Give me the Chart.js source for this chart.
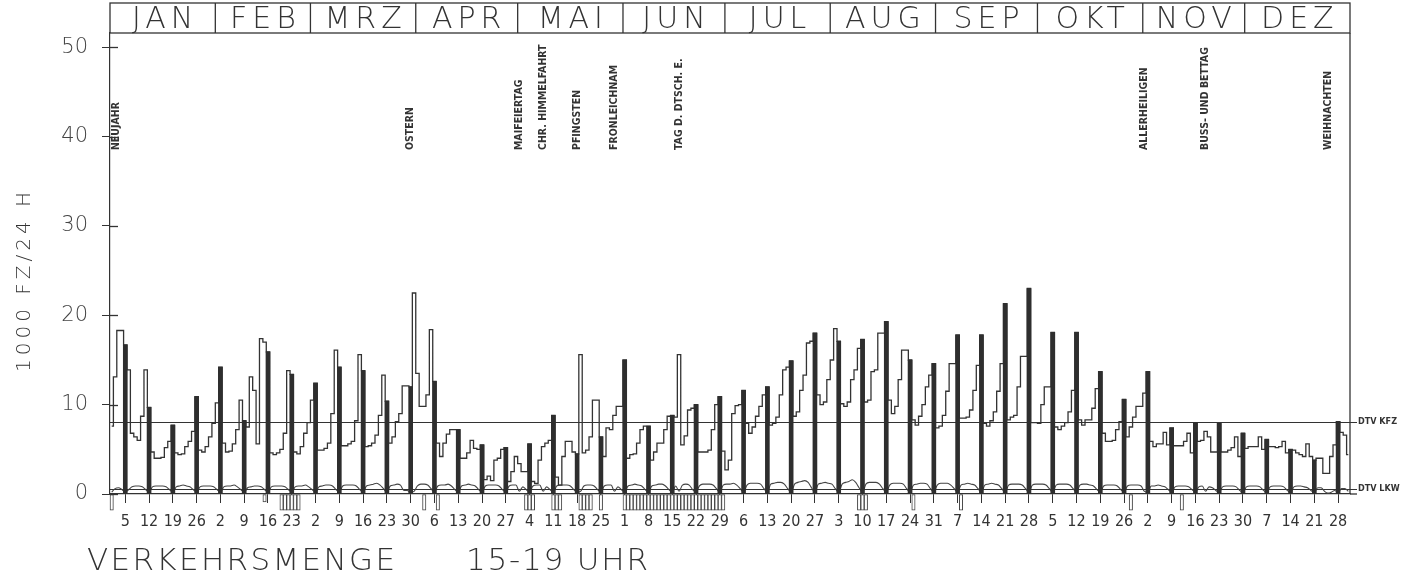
<!DOCTYPE html>
<html>
<head>
<meta charset="utf-8">
<title>Verkehrsmenge 15-19 Uhr</title>
<script src="https://cdn.jsdelivr.net/npm/chart.js@4.4.1/dist/chart.umd.min.js"></script>
<style>
  html, body { margin: 0; padding: 0; background: #fff; }
  canvas { display: block; }
</style>
</head>
<body>
<canvas id="chart" width="1421" height="575"></canvas>
<script>
// Verkehrsmenge 1986, Tageswerte 15-19 Uhr (1000 Fz)
const MONTHS = ['JAN', 'FEB', 'MRZ', 'APR', 'MAI', 'JUN', 'JUL', 'AUG', 'SEP', 'OKT', 'NOV', 'DEZ'];
const MONTH_DAYS = [31, 28, 31, 30, 31, 30, 31, 31, 30, 31, 30, 31];
const FIRST_SUNDAY = 5;
const SUNDAY_LABELS = [5, 12, 19, 26, 2, 9, 16, 23, 2, 9, 16, 23, 30, 6, 13, 20, 27, 4, 11, 18, 25,
  1, 8, 15, 22, 29, 6, 13, 20, 27, 3, 10, 17, 24, 31, 7, 14, 21, 28, 5, 12, 19, 26,
  2, 9, 16, 23, 30, 7, 14, 21, 28];
const Y_TICKS = [0, 10, 20, 30, 40, 50];

// Kfz je Tag
const kfzJan = [7.6, 13.1, 18.3, 18.3, 16.7, 13.9, 6.8, 6.4, 6.0, 8.7, 13.9, 9.7, 4.7, 4.0, 4.0, 4.1, 5.2, 5.9, 7.7,
  4.6, 4.4, 4.5, 5.3, 5.9, 7.0, 10.9, 4.9, 4.7, 5.3, 6.4, 7.9];
const kfzFeb = [10.2, 14.2, 5.7, 4.7, 4.8, 5.6, 7.2, 10.5, 8.2, 7.5, 13.1, 11.6, 5.6, 17.4, 17.0, 15.9,
  4.6, 4.4, 4.6, 5.0, 6.8, 13.8, 13.4, 4.7, 4.5, 5.3, 6.8, 8.0];
const kfzMar = [10.5, 12.4, 4.9, 4.9, 5.1, 5.7, 9.0, 16.1, 14.2, 5.4, 5.4, 5.6, 5.9, 8.2, 15.6, 13.8,
  5.3, 5.4, 5.7, 6.6, 8.8, 13.3, 10.4, 5.7, 6.4, 8.1, 9.0, 12.1, 12.1, 12.0, 22.5];
const kfzApr = [13.5, 9.8, 9.8, 11.1, 18.4, 12.6, 5.7, 4.2, 5.7, 6.7, 7.2, 7.2, 7.2, 4.0, 4.0, 4.6, 6.0, 5.1, 5.0, 5.5,
  1.6, 2.0, 1.5, 3.8, 4.0, 5.0, 5.2, 1.4, 2.5, 4.2];
const kfzMai = [3.4, 2.5, 2.5, 5.6, 1.4, 1.2, 3.8, 5.3, 5.7, 6.0, 8.8, 1.9, 1.0, 4.2, 5.9, 5.9, 4.7, 4.5,
  15.6, 4.6, 4.9, 6.4, 10.5, 10.5, 6.4, 4.2, 7.4, 7.2, 8.8, 9.8, 9.8];
const kfzJun = [15.0, 4.0, 4.4, 4.5, 5.7, 7.2, 7.6, 7.6, 3.8, 4.7, 5.7, 5.7, 7.2, 8.7, 8.8,
  8.6, 15.6, 5.5, 6.5, 9.4, 9.6, 10.0, 4.7, 4.7, 4.7, 4.9, 7.2, 10.0, 10.9, 4.8];
const kfzJul = [2.7, 3.8, 9.0, 9.9, 10.0, 11.6, 7.9, 6.8, 7.5, 8.7, 9.8, 11.1, 12.0, 7.7, 7.9, 8.6, 11.1, 13.9, 14.2, 14.9,
  8.7, 9.2, 11.6, 13.3, 16.9, 17.1, 18.0, 11.1, 10.0, 10.3, 12.8];
const kfzAug = [15.0, 18.5, 17.1, 10.1, 9.8, 10.3, 12.8, 13.9, 16.3, 17.3, 10.3, 10.5, 13.7, 13.9, 18.0, 18.0, 19.3,
  10.5, 9.0, 9.8, 12.8, 16.1, 16.1, 15.0, 8.3, 7.7, 8.7, 10.0, 12.0, 13.3, 14.6];
const kfzSep = [7.4, 7.6, 8.8, 11.5, 14.6, 14.6, 17.8, 8.5, 8.5, 8.6, 9.4, 11.6, 14.4, 17.8,
  7.9, 7.6, 8.2, 9.2, 11.5, 14.6, 21.3, 8.3, 8.6, 8.8, 12.0, 15.4, 15.4, 23.0, 8.0, 8.0];
const kfzOkt = [7.9, 10.0, 12.0, 12.0, 18.1, 7.5, 7.2, 7.6, 8.0, 9.2, 11.6, 18.1, 8.3, 7.7, 8.3, 8.3, 9.6, 11.8, 13.7,
  6.8, 5.9, 5.9, 6.0, 7.2, 8.1, 10.6, 6.4, 7.5, 8.6, 9.8, 9.8];
const kfzNov = [11.3, 13.7, 5.9, 5.3, 5.6, 5.6, 6.9, 5.5, 7.4, 5.4, 5.4, 5.4, 5.9, 6.8, 4.6, 8.0,
  5.9, 6.0, 7.0, 6.4, 4.7, 4.7, 7.9, 4.7, 4.7, 4.9, 5.2, 6.4, 4.2, 6.8];
const kfzDez = [5.1, 5.3, 5.3, 5.3, 6.4, 5.0, 6.1, 5.3, 5.3, 5.2, 5.3, 5.9, 4.6, 5.0, 4.9, 4.6, 4.4, 4.2, 5.6, 4.2, 3.8,
  4.0, 4.0, 2.3, 2.3, 4.2, 5.5, 8.1, 6.9, 6.6, 4.4];

// Lkw je Tag
const lkwJan = [.2, .6, .7, .5, .2, .5, .8, .9, .9, .8, .5, .2, .8, .9, .9, .9, .8, .5, .2, .8, .9, 1.0, .9, .8, .5, .2, .8, .9, .9, .9, .8];
const lkwFeb = [.5, .2, .8, .9, .9, 1.0, .8, .5, .2, .7, .8, .9, .9, .8, .5, .2, .8, .9, .9, .9, .8, .5, .2, .8, .9, .9, 1.0, .8];
const lkwMar = [.5, .2, .8, .9, 1.0, 1.0, .9, .5, .2, .9, 1.0, 1.0, 1.0, .9, .5, .2, .9, 1.0, 1.1, 1.2, 1.0, .6, .2, .9, 1.0, 1.1, 1.0, .4, .4, .2, .3];
const lkwApr = [.9, 1.1, 1.1, 1.0, .6, .2, .9, 1.0, 1.0, 1.1, .9, .5, .2, .9, 1.0, 1.1, 1.0, .9, .5, .2, .9, 1.0, 1.0, 1.0, .9, .5, .2, .9, 1.0, 1.0];
const lkwMai = [.3, .8, .5, .2, .9, 1.0, 1.0, .3, .8, .5, .2, .9, 1.0, 1.0, 1.0, .9, .5, .2, .3, .9, 1.0, 1.0, .9, .5, .2, .9, 1.0, 1.0, .3, .8, .5];
const lkwJun = [.2, .9, 1.0, 1.1, 1.0, .9, .5, .2, .9, 1.0, 1.1, 1.1, .9, .5, .2, .9, .3, 1.0, 1.1, 1.0, .5, .2, .9, 1.1, 1.1, 1.1, 1.0, .6, .2, 1.0];
const lkwJul = [1.1, 1.1, 1.2, 1.0, .6, .2, 1.0, 1.2, 1.2, 1.2, 1.1, .6, .2, 1.1, 1.2, 1.3, 1.3, 1.1, .6, .2, 1.1, 1.3, 1.4, 1.5, 1.3, .7, .2, 1.1, 1.2, 1.3, 1.2];
const lkwAug = [1.1, .6, .2, 1.1, 1.3, 1.4, 1.6, 1.3, .7, .2, 1.1, 1.3, 1.3, 1.3, 1.1, .6, .2, 1.0, 1.2, 1.2, 1.2, 1.1, .6, .2, 1.0, 1.1, 1.2, 1.2, 1.1, .6, .2];
const lkwSep = [1.0, 1.2, 1.2, 1.2, 1.0, .6, .2, 1.0, 1.1, 1.2, 1.1, 1.0, .6, .2, 1.0, 1.1, 1.2, 1.1, 1.0, .6, .2, 1.0, 1.1, 1.1, 1.1, 1.0, .6, .2, 1.0, 1.1];
const lkwOkt = [1.1, 1.1, 1.0, .6, .2, 1.0, 1.1, 1.1, 1.1, 1.0, .6, .2, 1.0, 1.1, 1.1, 1.0, .9, .5, .2, .9, 1.0, 1.0, 1.0, .9, .5, .2, .9, 1.0, 1.0, 1.0, .9];
const lkwNov = [.3, .2, .9, .9, 1.0, .9, .8, .5, .2, .8, .9, .9, .9, .8, .5, .2, .8, .9, .3, .8, .7, .4, .2, .8, .9, .9, .9, .8, .4, .2];
const lkwDez = [.8, .9, .9, .9, .8, .4, .2, .8, .9, .9, .9, .8, .4, .2, .8, .9, .9, .8, .7, .4, .2, .7, .7, .3, .1, .2, .4, .2, .6, .6, .3];

// Feiertage (Tag des Jahres)
const HOLIDAY_DAYS = [1, 89, 121, 128, 138, 149, 168, 305, 323, 359];
const HOLIDAY_NAMES = ['NEUJAHR', 'OSTERN', 'MAIFEIERTAG', 'CHR. HIMMELFAHRT', 'PFINGSTEN', 'FRONLEICHNAM',
  'TAG D. DTSCH. E.', 'ALLERHEILIGEN', 'BUSS- UND BETTAG', 'WEIHNACHTEN'];
const HOLIDAY_BASE = 38.5;

// Kennung unter der Achse
const MARK_DAYS = [1, 46, 51, 52, 53, 54, 55, 56, 93, 97, 123, 124, 125, 131, 132, 133, 139, 140, 141, 142, 145,
  152, 153, 154, 155, 156, 157, 158, 159, 160, 161, 162, 163, 164, 165, 166, 167, 168, 169, 170, 171,
  172, 173, 174, 175, 176, 177, 178, 179, 180, 181, 221, 222, 223, 237, 251, 301, 316];
const MARK_VALUES = [-1.8, -0.9, -1.8, -1.8, -1.8, -1.8, -1.8, -1.8, -1.8, -1.8, -1.8, -1.8, -1.8, -1.8, -1.8, -1.8,
  -1.8, -1.8, -1.8, -1.8, -1.8,
  -1.8, -1.8, -1.8, -1.8, -1.8, -1.8, -1.8, -1.8, -1.8, -1.8, -1.8, -1.8, -1.8, -1.8, -1.8, -1.8, -1.8, -1.8, -1.8, -1.8,
  -1.8, -1.8, -1.8, -1.8, -1.8, -1.8, -1.8, -1.8, -1.8, -1.8, -1.8, -1.8, -1.8, -1.8, -1.8, -1.8, -1.8];

const DTV_KFZ = 8.1;
const DTV_LKW = 0.55;

const kfz = [].concat(kfzJan, kfzFeb, kfzMar, kfzApr, kfzMai, kfzJun, kfzJul, kfzAug, kfzSep, kfzOkt, kfzNov, kfzDez);
const lkw = [].concat(lkwJan, lkwFeb, lkwMar, lkwApr, lkwMai, lkwJun, lkwJul, lkwAug, lkwSep, lkwOkt, lkwNov, lkwDez);
const sundays = SUNDAY_LABELS.map((_, i) => FIRST_SUNDAY + 7 * i);

const INK = '#333';
const THIN = "'DejaVu Sans'";
const NARROW = "'Liberation Sans Narrow', 'DejaVu Sans Condensed', 'DejaVu Sans', sans-serif";

function fitText(ctx, text, x, y, width) {
  ctx.letterSpacing = '0px';
  const w = ctx.measureText(text).width;
  ctx.letterSpacing = ((width - w) / Math.max(1, text.length - 1)) + 'px';
  ctx.fillText(text, x, y);
  ctx.letterSpacing = '0px';
}

const decor = {
  id: 'decor',
  beforeDatasetsDraw(chart) {
    const { ctx, scales: { y }, chartArea: a } = chart;
    ctx.save();
    ctx.strokeStyle = INK;
    ctx.lineWidth = 1.2;
    [DTV_KFZ, DTV_LKW].forEach(v => {
      const py = Math.round(y.getPixelForValue(v)) + 0.5;
      ctx.beginPath(); ctx.moveTo(a.left, py); ctx.lineTo(a.right + 7, py); ctx.stroke();
    });
    ctx.restore();
  },
  afterDraw(chart) {
    const { ctx, scales: { x, y }, chartArea: a } = chart;
    const top = 3;
    ctx.save();
    ctx.strokeStyle = INK;
    ctx.fillStyle = INK;
    ctx.lineWidth = 1.3;

    // Monatskopf
    ctx.strokeRect(a.left, top, a.right - a.left, a.top - top);
    ctx.beginPath(); ctx.moveTo(a.right, a.top); ctx.lineTo(a.right, a.bottom); ctx.stroke();
    ctx.beginPath(); ctx.moveTo(a.right, a.bottom); ctx.lineTo(a.right + 7, a.bottom); ctx.stroke();
    ctx.font = `200 30px ${THIN}`;
    ctx.textAlign = 'center';
    ctx.textBaseline = 'middle';
    let start = 0;
    MONTHS.forEach((m, i) => {
      const x0 = x.getPixelForValue(start + 0.5);
      const x1 = x.getPixelForValue(start + MONTH_DAYS[i] + 0.5);
      if (i > 0) { ctx.beginPath(); ctx.moveTo(x0, top); ctx.lineTo(x0, a.top); ctx.stroke(); }
      ctx.letterSpacing = '5px';
      ctx.fillText(m, (x0 + x1) / 2 + 2.5, (top + a.top) / 2 + 2);
      ctx.letterSpacing = '0px';
      start += MONTH_DAYS[i];
    });

    // Teilstriche innen an der y-Achse
    Y_TICKS.forEach(v => {
      const py = Math.round(y.getPixelForValue(v)) + 0.5;
      ctx.beginPath(); ctx.moveTo(a.left, py); ctx.lineTo(a.left + 8, py); ctx.stroke();
    });

    // Feiertage
    ctx.font = `bold 10.5px 'DejaVu Sans Condensed', 'DejaVu Sans'`;
    ctx.textAlign = 'left';
    ctx.textBaseline = 'middle';
    HOLIDAY_DAYS.forEach((d, i) => {
      const px = Math.max(x.getPixelForValue(d), a.left + 6);
      ctx.save();
      ctx.translate(px, y.getPixelForValue(HOLIDAY_BASE));
      ctx.rotate(-Math.PI / 2);
      ctx.fillText(HOLIDAY_NAMES[i], 0, 0);
      ctx.restore();
    });

    // DTV
    ctx.font = `bold 9px 'DejaVu Sans Condensed', 'DejaVu Sans'`;
    ctx.fillText('DTV KFZ', a.right + 8, y.getPixelForValue(DTV_KFZ));
    ctx.fillText('DTV LKW', a.right + 8, y.getPixelForValue(DTV_LKW));

    // Titel
    ctx.font = `200 31px ${THIN}`;
    ctx.textBaseline = 'alphabetic';
    fitText(ctx, 'VERKEHRSMENGE', 87, 570, 308);
    fitText(ctx, '15-19 UHR', 466, 570, 182);

    ctx.font = `200 20px ${THIN}`;
    ctx.save();
    ctx.translate(30, 372);
    ctx.rotate(-Math.PI / 2);
    fitText(ctx, '1000 FZ/24 H', 0, 0, 180);
    ctx.restore();

    ctx.restore();
  }
};

new Chart(document.getElementById('chart'), {
  type: 'bar',
  data: {
    datasets: [
      {
        type: 'bar', label: 'Sonntag',
        data: sundays.map(d => ({ x: d, y: kfz[d - 1] })),
        backgroundColor: '#2e2e2e', borderWidth: 0, barThickness: 4, grouped: false, order: 0,
      },
      {
        type: 'bar', label: 'Kennung',
        data: MARK_DAYS.map((d, i) => ({ x: d, y: MARK_VALUES[i] })),
        backgroundColor: '#fff', borderColor: '#444', borderWidth: 1, borderSkipped: false,
        barThickness: 3.4, grouped: false, clip: false, order: 0,
      },
      {
        type: 'line', label: 'KFZ',
        data: kfz.map((v, i) => ({ x: i + 1, y: v })),
        stepped: 'middle', borderColor: INK, borderWidth: 1.3, pointRadius: 0, order: 1,
      },
      {
        type: 'line', label: 'LKW',
        data: lkw.map((v, i) => ({ x: i + 1, y: v })),
        cubicInterpolationMode: 'monotone', borderColor: '#444', borderWidth: 1.1, pointRadius: 0, order: 1,
      },
    ],
  },
  options: {
    responsive: false,
    animation: false,
    devicePixelRatio: 1,
    events: [],
    layout: { padding: { left: 0, right: 71, top: 33, bottom: 0 } },
    plugins: { legend: { display: false }, tooltip: { enabled: false } },
    scales: {
      x: {
        type: 'linear', min: 0.5, max: 365.5, offset: false,
        afterFit(s) { s.height = 81; },
        afterBuildTicks(s) { s.ticks = sundays.map(v => ({ value: v })); },
        grid: { display: true, drawOnChartArea: false, tickLength: 9, color: INK, offset: false },
        border: { display: true, color: INK, width: 1.2 },
        ticks: {
          autoSkip: false, maxRotation: 0, padding: 9, color: '#333',
          font: { family: NARROW, size: 16 },
          callback: (v, i) => SUNDAY_LABELS[i],
        },
      },
      y: {
        min: 0, max: 51.6,
        afterFit(s) { s.width = 110; },
        afterBuildTicks(s) { s.ticks = Y_TICKS.map(v => ({ value: v })); },
        grid: { display: true, drawOnChartArea: false, tickLength: 8, color: INK },
        border: { display: true, color: INK, width: 1.2 },
        ticks: { padding: 14, color: '#444', font: { family: THIN, size: 21, weight: '200' } },
      },
    },
  },
  plugins: [decor],
});
</script>
</body>
</html>
